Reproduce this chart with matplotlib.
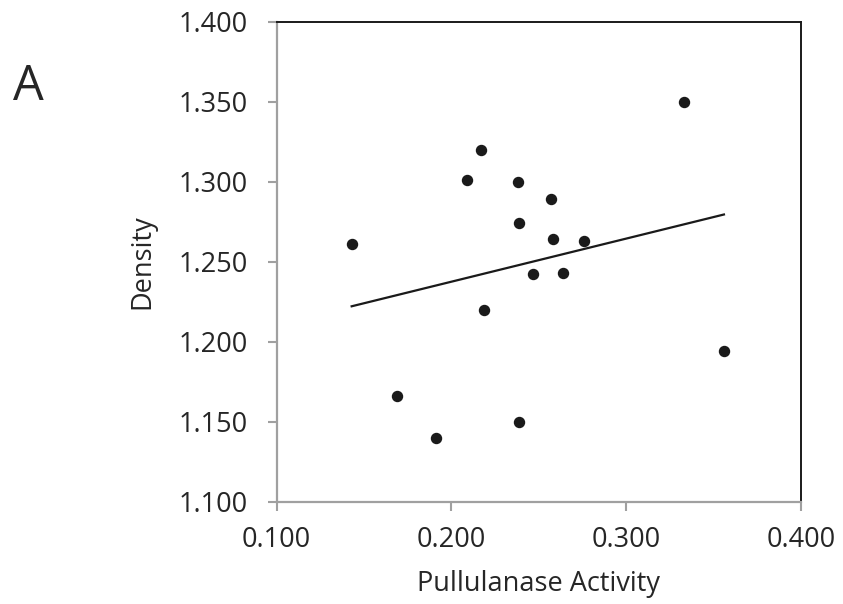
import numpy as np
import matplotlib
matplotlib.use("Agg")
import matplotlib.pyplot as plt

# pullulanase activity vs density
activity = [0.333, 0.217, 0.209, 0.238, 0.257, 0.239, 0.143, 0.258,
            0.276, 0.247, 0.264, 0.219, 0.356, 0.169, 0.191, 0.239]
density = [1.350, 1.320, 1.301, 1.300, 1.289, 1.274, 1.261, 1.264,
           1.263, 1.2425, 1.243, 1.220, 1.194, 1.166, 1.140, 1.150]
xticks = [0.1, 0.2, 0.3, 0.4]
yticks = [1.10, 1.15, 1.20, 1.25, 1.30, 1.35, 1.40]

plt.rcParams['font.family'] = ['Open Sans', 'DejaVu Sans']

fig = plt.figure(figsize=(8.43, 6.04), dpi=100)
ax = fig.add_axes([0.328, 0.169, 0.622, 0.795])

x = np.array(activity)
y = np.array(density)
ax.plot(x, y, 'o', color='#1a1a1a', markersize=7.2, zorder=3)

# linear trendline over the data range
slope, icpt = np.polyfit(x, y, 1)
xs = np.array([x.min(), x.max()])
ax.plot(xs, slope * xs + icpt, color='#1a1a1a', lw=1.6, zorder=2)

ax.set_xlim(0.1, 0.4)
ax.set_ylim(1.1, 1.4)
ax.set_xticks(xticks)
ax.set_yticks(yticks)
ax.set_xticklabels([f"{v:.3f}" for v in xticks])
ax.set_yticklabels([f"{v:.3f}" for v in yticks])

for side in ('left', 'bottom'):
    ax.spines[side].set_color('#a0a0a0')
    ax.spines[side].set_linewidth(1.6)
for side in ('top', 'right'):
    ax.spines[side].set_color('#1a1a1a')
    ax.spines[side].set_linewidth(1.4)

ax.tick_params(direction='out', length=6.5, width=1.5, color='#a0a0a0',
               labelsize=19.5, labelcolor='#262626')
ax.tick_params(axis='x', pad=11)
ax.tick_params(axis='y', pad=14)

ax.set_xlabel("Pullulanase Activity", fontsize=19.5, color='#262626', labelpad=11)
ax.set_ylabel("Density", fontsize=19.5, color='#262626', labelpad=16)

fig.text(0.016, 0.855, "A", fontsize=35, color='#262626', ha='left', va='center')

fig.savefig("out.png", dpi=100)
